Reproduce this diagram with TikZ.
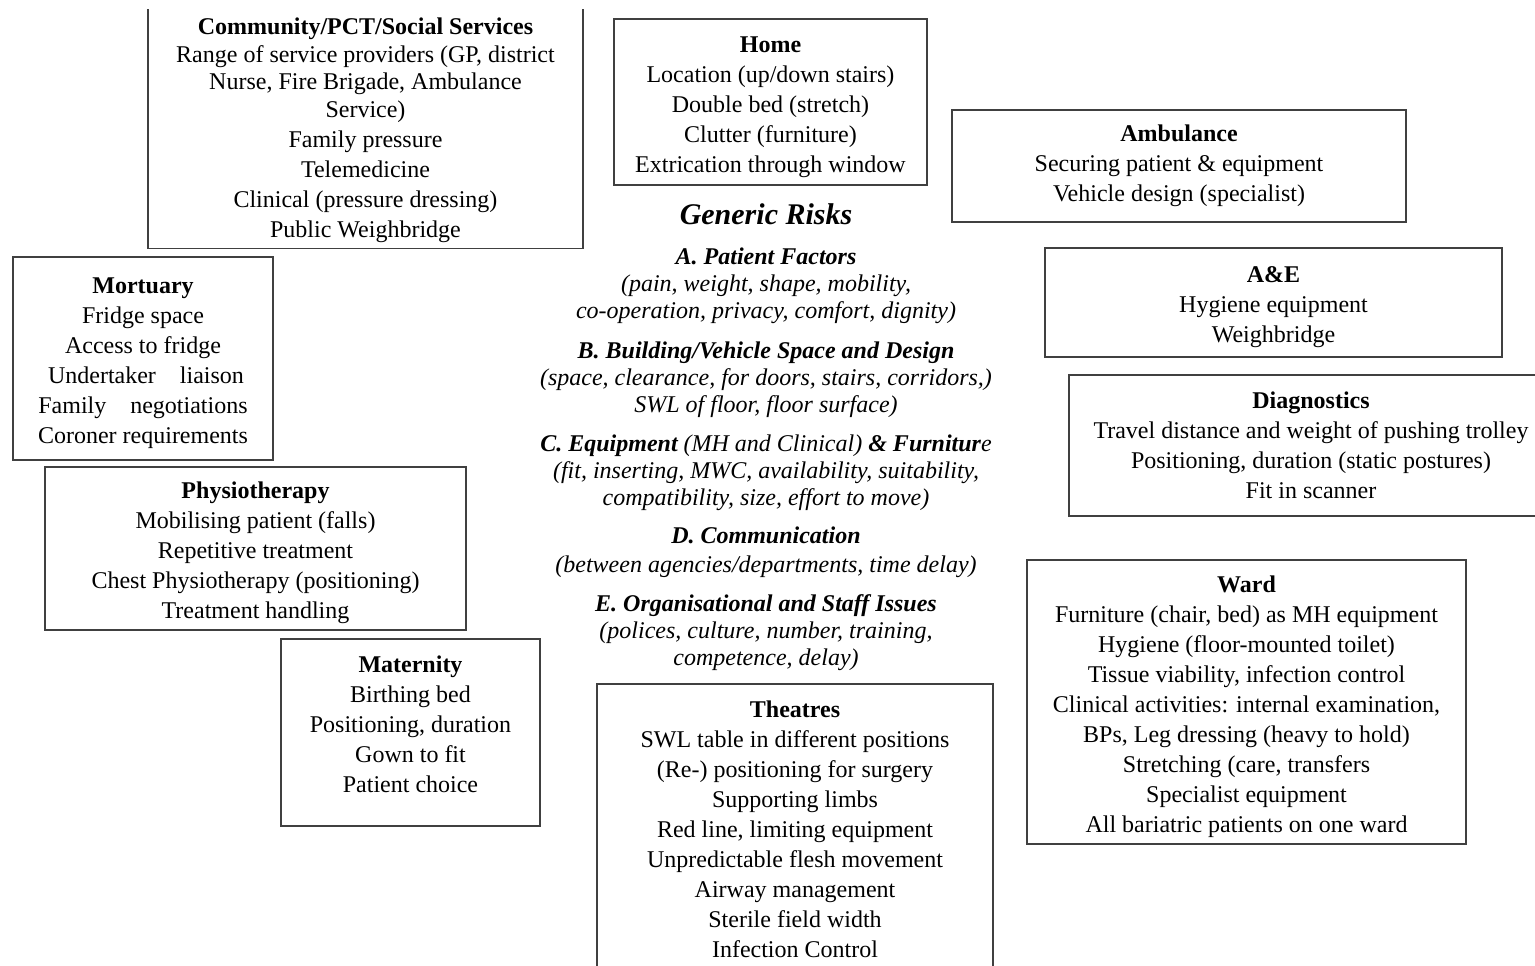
\documentclass[tikz,border=0pt]{standalone}
\usepackage{fontspec}
\setmainfont{Liberation Serif}
\usepackage{tikz}
\usetikzlibrary{positioning}
\newcommand{\boxtitle}[1]{\rule{0pt}{13pt}\textbf{#1}}

\begin{document}
\begin{tikzpicture}[
    x=0.5pt, y=-0.5pt,
    areabox/.style={draw=black!75, line width=0.7pt, align=center, inner sep=1pt, font=\fontsize{12}{15}\selectfont},
    risktext/.style={align=center, inner sep=0pt, font=\fontsize{12}{13.5}\selectfont\itshape}
]
    \useasboundingbox (0,0) rectangle (1535,965);
    \clip (0,9) rectangle (1535,965);

    % care settings round the generic risks
    \node[areabox, minimum width=217.5pt, minimum height=123pt] (community) at (365.5,125.5) {\boxtitle{Community/PCT/Social Services}\\[-1.2pt] Range of service providers (GP, district\\[-1.2pt] Nurse, Fire Brigade, Ambulance\\[-1.2pt] Service)\\ Family pressure\\ Telemedicine\\ Clinical (pressure dressing)\\ Public Weighbridge};
    \node[areabox, minimum width=156.5pt, minimum height=83pt] (home) at (770.5,102) {\boxtitle{Home}\\ Location (up/down stairs)\\ Double bed (stretch)\\ Clutter (furniture)\\ Extrication through window};
    \node[areabox, minimum width=227pt, minimum height=56pt] (ambulance) at (1179,166) {\textbf{Ambulance}\\ Securing patient \& equipment\\ Vehicle design (specialist)};
    \node[areabox, minimum width=228.5pt, minimum height=54.5pt] (ae) at (1273.5,302.5) {\boxtitle{A\&E}\\ Hygiene equipment\\ Weighbridge};
    \node[areabox, minimum width=242pt, minimum height=70.5pt] (diagnostics) at (1311,445.5) {\textbf{Diagnostics}\\ Travel distance and weight of pushing trolley\\ Positioning, duration (static postures)\\ Fit in scanner};
    \node[areabox, minimum width=219.5pt, minimum height=142pt] (ward) at (1246.5,702) {\boxtitle{Ward}\\ Furniture (chair, bed) as MH equipment\\ Hygiene (floor-mounted toilet)\\ Tissue viability, infection control\\ Clinical activities: internal examination,\\ BPs, Leg dressing (heavy to hold)\\ Stretching (care, transfers\\ Specialist equipment\\ All bariatric patients on one ward};
    \node[areabox, minimum width=130pt, minimum height=101.5pt] (mortuary) at (143,358.5) {\boxtitle{Mortuary}\\ Fridge space\\ Access to fridge\\ \ Undertaker\quad liaison\\ Family\quad negotiations\\ Coroner requirements};
    \node[areabox, minimum width=210.5pt, minimum height=81.5pt] (physio) at (255.5,548.5) {\boxtitle{Physiotherapy}\\ Mobilising patient (falls)\\ Repetitive treatment\\ Chest Physiotherapy (positioning)\\ Treatment handling};
    \node[areabox, minimum width=129.5pt, minimum height=93.5pt] (maternity) at (410.5,732.5) {\boxtitle{Maternity}\\ Birthing bed\\ Positioning, duration\\ Gown to fit\\ Patient choice\rule[-13pt]{0pt}{13pt}};
    \node[areabox, minimum width=198pt, minimum height=145pt] (theatres) at (795,829) {\textbf{Theatres}\\ SWL table in different positions\\ (Re-) positioning for surgery\\ Supporting limbs\\ Red line, limiting equipment\\ Unpredictable flesh movement\\ Airway management\\ Sterile field width\\ Infection Control};

    % generic risks in the middle
    \node[risktext, font=\fontsize{15}{18}\selectfont\bfseries\itshape] (generic) at (766,214) {Generic Risks};
    \node[risktext] (riskA) at (766,286) {\textbf{A. Patient Factors}\\ (pain, weight, shape, mobility,\\ co-operation, privacy, comfort, dignity)};
    \node[risktext] (riskB) at (766,380) {\textbf{B. Building/Vehicle Space and Design}\\ (space, clearance, for doors, stairs, corridors,)\\ SWL of floor, floor surface)};
    \node[risktext] (riskC) at (766,473) {\textbf{C. Equipment} (MH and Clinical) \textbf{\& Furnitur}e\\ (fit, inserting, MWC, availability, suitability,\\ compatibility, size, effort to move)};
    \node[risktext] (riskD) at (766,552) {\textbf{D. Communication}\\[0.8pt] (between agencies/departments, time delay)};
    \node[risktext] (riskE) at (766,633) {\textbf{E. Organisational and Staff Issues}\\ (polices, culture, number, training,\\ competence, delay)};
\end{tikzpicture}
\end{document}
